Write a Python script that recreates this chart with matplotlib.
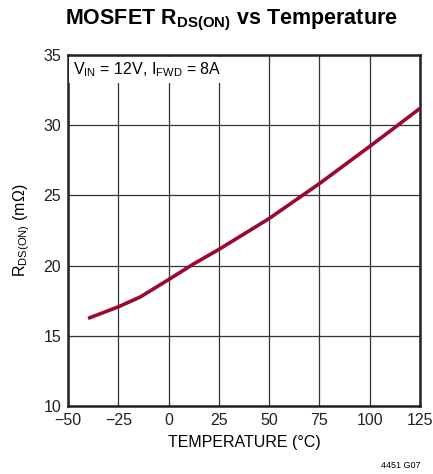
import matplotlib.pyplot as plt
import numpy as np

plt.rcParams['font.family'] = ['Liberation Sans', 'DejaVu Sans']
plt.rcParams['mathtext.fontset'] = 'custom'
plt.rcParams['mathtext.rm'] = 'Liberation Sans'
plt.rcParams['mathtext.bf'] = 'Liberation Sans:bold'

# curve
temp = [-40, -25, -14, 0, 12, 25, 50, 75, 100, 114, 125]
rds = [16.24, 17.06, 17.77, 19.0, 20.08, 21.15, 23.35, 25.84, 28.49, 30.0, 31.2]

xticks = [-50, -25, 0, 25, 50, 75, 100, 125]
xlabels = ['\u221250', '\u221225', '0', '25', '50', '75', '100', '125']
yticks = [10, 15, 20, 25, 30, 35]

fig = plt.figure(figsize=(4.33, 4.74), dpi=100)
ax = fig.add_axes([0.157, 0.1435, 0.813, 0.7405])

ax.plot(temp, rds, color='#9b0a2e', lw=2.6, solid_capstyle='butt', zorder=3)

ax.set_xlim(-50, 125)
ax.set_ylim(10, 35)
ax.set_xticks(xticks)
ax.set_xticklabels(xlabels)
ax.set_yticks(yticks)
ax.tick_params(length=0, labelsize=11.5, pad=5, colors='#222222')
ax.grid(True, color='#333333', lw=0.9)
for s in ax.spines.values():
    s.set_linewidth(1.8)
    s.set_color('#222222')

ax.set_xlabel('TEMPERATURE (\u00b0C)', fontsize=11.5, labelpad=5)
ax.set_ylabel(r'R$_{\mathregular{DS(ON)}}$ (m$\mathregular{\Omega}$)', fontsize=11.5, labelpad=8)

ax.text(-47.5, 34.6, r'V$_{\mathregular{IN}}$ = 12V, I$_{\mathregular{FWD}}$ = 8A',
        fontsize=11.5, va='top', ha='left', zorder=4,
        bbox=dict(facecolor='white', edgecolor='none', pad=2.5))

fig.text(0.535, 0.957, r'MOSFET R$_{\mathbf{DS(ON)}}$ vs Temperature',
         fontsize=15.5, fontweight='bold', ha='center', va='center')
fig.text(0.97, 0.008, '4451 G07', fontsize=6.5, ha='right', va='bottom')

plt.savefig('out.png', dpi=100)
